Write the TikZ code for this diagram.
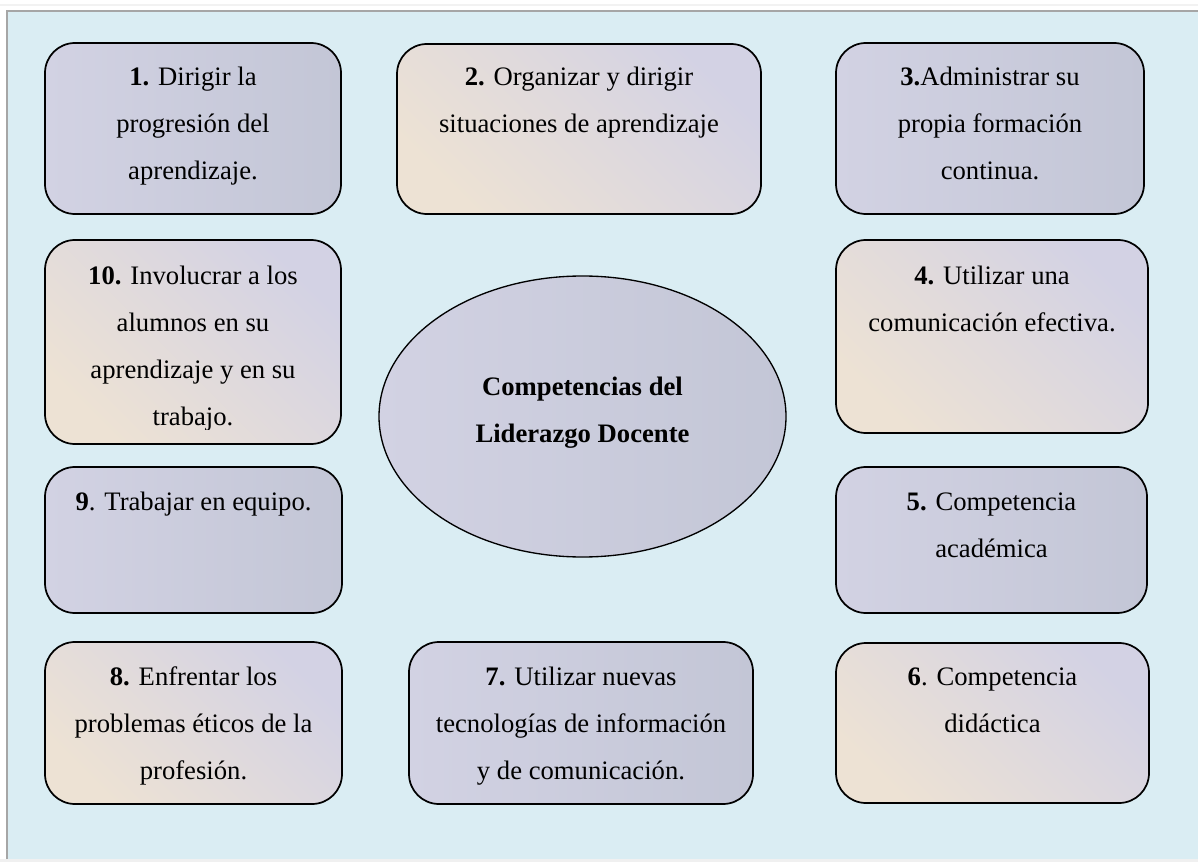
\documentclass[tikz,border=0pt]{standalone}
\usepackage{fontspec}
\setmainfont{Liberation Serif}
\usetikzlibrary{positioning}
\usetikzlibrary{shapes.geometric}

\definecolor{panelblue}{HTML}{DAEDF3}
\definecolor{framegray}{HTML}{A6A6A6}
\definecolor{lilac}{HTML}{D2D2E3}
\definecolor{slate}{HTML}{C3C6D6}
\definecolor{peach}{HTML}{EDE2D4}
\definecolor{lavender}{HTML}{D3D2E4}

% lines of a box, hanging from the first baseline
\newcommand{\boxlines}[1]{\parbox[t]{260pt}{\centering #1}}

\tikzset{
  slatebox/.style={draw=black, line width=1.3pt, rounded corners=22.5pt,
    left color=lilac, right color=slate, inner sep=0pt},
  peachbox/.style={draw=black, line width=1.3pt, rounded corners=22.5pt,
    shading=axis, top color=lavender, bottom color=peach, shading angle=-45, inner sep=0pt},
  boxtext/.style={anchor=base, inner sep=0pt,
    font=\fontsize{20pt}{35.25pt}\selectfont}
}

\begin{document}
\begin{tikzpicture}[x=0.75pt,y=-0.75pt]
 \useasboundingbox (0,0) rectangle (1198,862);
 % page and panel
 \fill[white] (0,0) rectangle (1198,862);
 \fill[gray!10] (0,4) rectangle (1198,6);
 \fill[gray!12] (0,859) rectangle (1198,862);
 \fill[panelblue] (7,11) rectangle (1198,859);
 \draw[framegray, line width=1.5pt] (7,859) -- (7,11.5) -- (1198,11.5);

 % top row
 \node[slatebox, minimum width=222pt, minimum height=128.25pt] (b1) at (193,128.5) {};
 \node[peachbox, minimum width=273pt, minimum height=127.5pt] (b2) at (579,129) {};
 \node[slatebox, minimum width=231pt, minimum height=128.25pt] (b3) at (990,128.5) {};
 \node[boxtext] (t1) at (193,86) {\boxlines{\textbf{1.} Dirigir la\\progresión del\\aprendizaje.}};
 \node[boxtext] (t2) at (579,86) {\boxlines{\textbf{2.} Organizar y dirigir\\situaciones de aprendizaje}};
 \node[boxtext] (t3) at (990,86) {\boxlines{\textbf{3.}Administrar su\\propia formación\\continua.}};

 % middle rows
 \node[peachbox, minimum width=222pt, minimum height=153pt] (b10) at (193,342) {};
 \node[peachbox, minimum width=234pt, minimum height=144.75pt] (b4) at (992,336.5) {};
 \begin{scope}
  \clip (45,240) rectangle (341,429);
  \node[boxtext] (t10) at (193,285) {\boxlines{\textbf{10.} Involucrar a los\\alumnos en su\\aprendizaje y en su\\trabajo.}};
 \end{scope}
 \node[boxtext] (t4) at (992,285) {\boxlines{\textbf{4.} Utilizar una\\comunicación efectiva.}};

 \node[ellipse, draw=black, line width=1pt, left color=lilac, right color=slate,
   minimum width=305.25pt, minimum height=210.75pt] (core) at (582.5,416.5) {};
 \node[boxtext, font=\fontsize{20pt}{35.25pt}\selectfont\bfseries] (tc) at (582.5,396)
   {\boxlines{Competencias del\\Liderazgo Docente}};

 \node[slatebox, minimum width=222.75pt, minimum height=109.5pt] (b9) at (193.5,540) {};
 \node[slatebox, minimum width=233.25pt, minimum height=109.5pt] (b5) at (991.5,540) {};
 \node[boxtext] (t9) at (193.5,510) {\boxlines{\textbf{9}. Trabajar en equipo.}};
 \node[boxtext] (t5) at (991.5,510) {\boxlines{\textbf{5.} Competencia\\académica}};

 % bottom row
 \node[peachbox, minimum width=222.75pt, minimum height=121.5pt] (b8) at (193.5,723) {};
 \node[slatebox, minimum width=258pt, minimum height=121.5pt] (b7) at (581,723) {};
 \node[peachbox, minimum width=234.75pt, minimum height=120pt] (b6) at (992.5,723) {};
 \node[boxtext] (t8) at (193.5,685) {\boxlines{\textbf{8.} Enfrentar los\\problemas éticos de la\\profesión.}};
 \node[boxtext] (t7) at (581,685) {\boxlines{\textbf{7.} Utilizar nuevas\\tecnologías de información\\y de comunicación.}};
 \node[boxtext] (t6) at (992.5,685) {\boxlines{\textbf{6}. Competencia\\didáctica}};
\end{tikzpicture}
\end{document}
